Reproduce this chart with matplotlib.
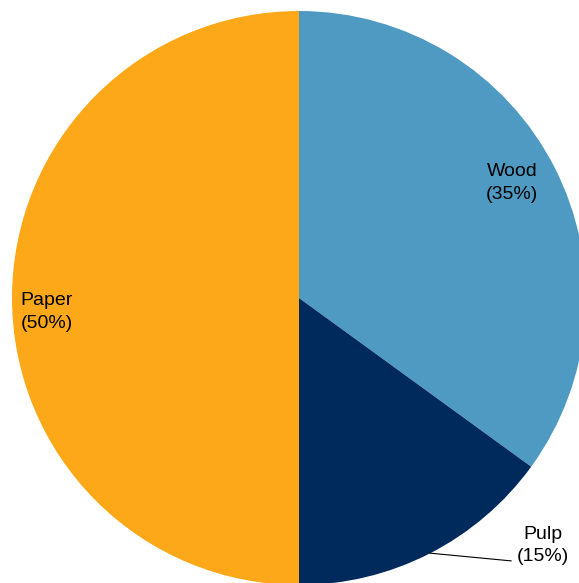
import matplotlib
matplotlib.use("Agg")
import matplotlib.pyplot as plt

# share of each material
labels = ["Wood", "Pulp", "Paper"]
shares = [35, 15, 50]
colors = ["#4F9AC3", "#002A5C", "#FCA819"]

plt.rcParams['font.family'] = ['Liberation Sans', 'DejaVu Sans']

fig = plt.figure(figsize=(5.79, 5.83), dpi=100)
ax = fig.add_axes([0, 0, 1, 1])

wedges, _ = ax.pie(shares, colors=colors, startangle=90, counterclock=False,
                   radius=1.0, center=(0, 0), frame=True,
                   wedgeprops=dict(linewidth=0))

# label positions (in units of the radius)
pos = {"Wood": (0.742, 0.401), "Pulp": (0.850, -0.861), "Paper": (-0.878, -0.049)}
for lab, s in zip(labels, shares):
    x, y = pos[lab]
    ax.text(x, y, f"{lab}\n({s}%)", ha="center", va="center",
            fontsize=14, color="black", linespacing=1.4)

# leader line for Pulp
ax.plot([0.456, 0.739], [-0.889, -0.916], color="black", linewidth=0.8)

ax.set_xlim(-299 / 287, 280 / 287)
ax.set_ylim(-285 / 287, 298 / 287)
ax.set_aspect("auto")
ax.axis("off")

fig.savefig("out.png", dpi=100)
